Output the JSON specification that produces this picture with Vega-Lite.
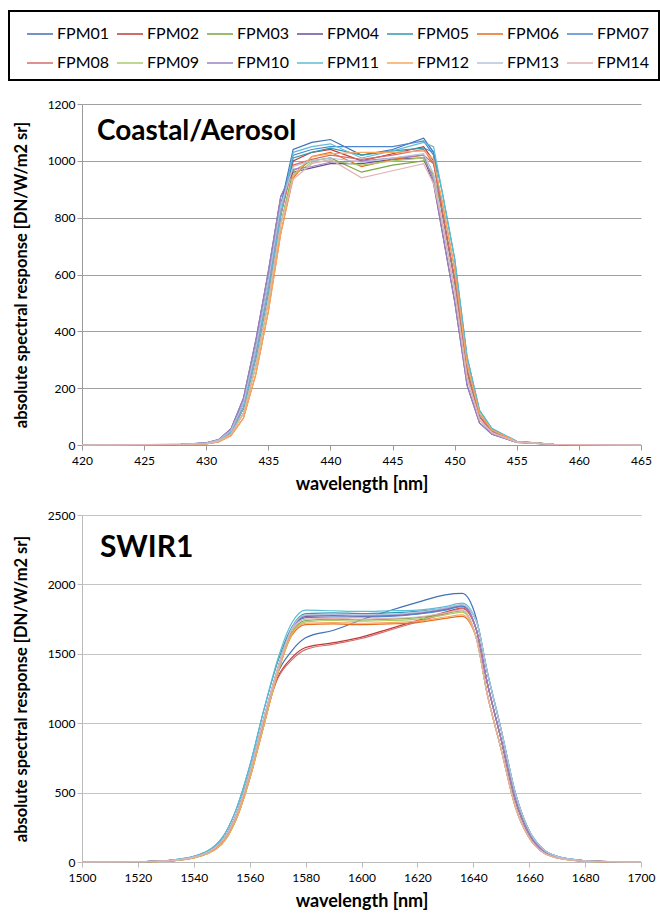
{
"$schema":"https://vega.github.io/schema/vega-lite/v6.json",
"padding":{"left":8,"top":10,"right":0,"bottom":5},
"config":{"font":"Lato","view":{"stroke":null},
"axis":{"labelFont":"Lato","labelFontSize":12,"labelColor":"#000","titleFont":"Lato","titleFontSize":16.5,"titleFontWeight":"bold","titleColor":"#000","tickSize":5},
"legend":{"strokeWidth":2}},
"datasets":{
"A":[
{"s":"FPM01","w":420,"v":0},{"s":"FPM01","w":428,"v":2},{"s":"FPM01","w":430,"v":7},{"s":"FPM01","w":431,"v":17},{"s":"FPM01","w":432,"v":51},{"s":"FPM01","w":433,"v":148},{"s":"FPM01","w":434,"v":340},{"s":"FPM01","w":435,"v":575},{"s":"FPM01","w":436,"v":842},{"s":"FPM01","w":437,"v":1040},{"s":"FPM01","w":438.5,"v":1065},{"s":"FPM01","w":440,"v":1075},{"s":"FPM01","w":442.5,"v":1020},{"s":"FPM01","w":445,"v":1040},{"s":"FPM01","w":447.5,"v":1080},{"s":"FPM01","w":448.3,"v":1030},{"s":"FPM01","w":449,"v":820},{"s":"FPM01","w":450,"v":580},{"s":"FPM01","w":451,"v":260},{"s":"FPM01","w":452,"v":100},{"s":"FPM01","w":453,"v":48},{"s":"FPM01","w":455,"v":11},{"s":"FPM01","w":458,"v":2},{"s":"FPM01","w":465,"v":0},
{"s":"FPM02","w":420,"v":0},{"s":"FPM02","w":428,"v":2},{"s":"FPM02","w":430,"v":6},{"s":"FPM02","w":431,"v":15},{"s":"FPM02","w":432,"v":45},{"s":"FPM02","w":433,"v":130},{"s":"FPM02","w":434,"v":310},{"s":"FPM02","w":435,"v":540},{"s":"FPM02","w":436,"v":810},{"s":"FPM02","w":437,"v":1000},{"s":"FPM02","w":438.5,"v":1030},{"s":"FPM02","w":440,"v":1040},{"s":"FPM02","w":442.5,"v":1000},{"s":"FPM02","w":445,"v":1025},{"s":"FPM02","w":447.5,"v":1050},{"s":"FPM02","w":448.3,"v":1000},{"s":"FPM02","w":449,"v":820},{"s":"FPM02","w":450,"v":580},{"s":"FPM02","w":451,"v":260},{"s":"FPM02","w":452,"v":100},{"s":"FPM02","w":453,"v":48},{"s":"FPM02","w":455,"v":11},{"s":"FPM02","w":458,"v":2},{"s":"FPM02","w":465,"v":0},
{"s":"FPM03","w":420,"v":0},{"s":"FPM03","w":428,"v":2},{"s":"FPM03","w":430,"v":5},{"s":"FPM03","w":431,"v":13},{"s":"FPM03","w":432,"v":39},{"s":"FPM03","w":433,"v":112},{"s":"FPM03","w":434,"v":280},{"s":"FPM03","w":435,"v":505},{"s":"FPM03","w":436,"v":778},{"s":"FPM03","w":437,"v":965},{"s":"FPM03","w":438.5,"v":1000},{"s":"FPM03","w":440,"v":1010},{"s":"FPM03","w":442.5,"v":960},{"s":"FPM03","w":445,"v":985},{"s":"FPM03","w":447.5,"v":1000},{"s":"FPM03","w":448.3,"v":950},{"s":"FPM03","w":449,"v":820},{"s":"FPM03","w":450,"v":580},{"s":"FPM03","w":451,"v":260},{"s":"FPM03","w":452,"v":100},{"s":"FPM03","w":453,"v":48},{"s":"FPM03","w":455,"v":11},{"s":"FPM03","w":458,"v":2},{"s":"FPM03","w":465,"v":0},
{"s":"FPM04","w":420,"v":0},{"s":"FPM04","w":428,"v":2},{"s":"FPM04","w":430,"v":8},{"s":"FPM04","w":431,"v":19},{"s":"FPM04","w":432,"v":57},{"s":"FPM04","w":433,"v":165},{"s":"FPM04","w":434,"v":370},{"s":"FPM04","w":435,"v":610},{"s":"FPM04","w":436,"v":875},{"s":"FPM04","w":437,"v":960},{"s":"FPM04","w":438.5,"v":975},{"s":"FPM04","w":440,"v":990},{"s":"FPM04","w":442.5,"v":990},{"s":"FPM04","w":445,"v":1005},{"s":"FPM04","w":447.5,"v":1010},{"s":"FPM04","w":448.3,"v":920},{"s":"FPM04","w":449,"v":750},{"s":"FPM04","w":450,"v":505},{"s":"FPM04","w":451,"v":210},{"s":"FPM04","w":452,"v":78},{"s":"FPM04","w":453,"v":38},{"s":"FPM04","w":455,"v":9},{"s":"FPM04","w":458,"v":2},{"s":"FPM04","w":465,"v":0},
{"s":"FPM05","w":420,"v":0},{"s":"FPM05","w":428,"v":2},{"s":"FPM05","w":430,"v":6},{"s":"FPM05","w":431,"v":15},{"s":"FPM05","w":432,"v":45},{"s":"FPM05","w":433,"v":130},{"s":"FPM05","w":434,"v":310},{"s":"FPM05","w":435,"v":540},{"s":"FPM05","w":436,"v":810},{"s":"FPM05","w":437,"v":1010},{"s":"FPM05","w":438.5,"v":1030},{"s":"FPM05","w":440,"v":1045},{"s":"FPM05","w":442.5,"v":1020},{"s":"FPM05","w":445,"v":1035},{"s":"FPM05","w":447.5,"v":1045},{"s":"FPM05","w":448.3,"v":1030},{"s":"FPM05","w":449,"v":890},{"s":"FPM05","w":450,"v":655},{"s":"FPM05","w":451,"v":310},{"s":"FPM05","w":452,"v":122},{"s":"FPM05","w":453,"v":58},{"s":"FPM05","w":455,"v":13},{"s":"FPM05","w":458,"v":2},{"s":"FPM05","w":465,"v":0},
{"s":"FPM06","w":420,"v":0},{"s":"FPM06","w":428,"v":2},{"s":"FPM06","w":430,"v":4},{"s":"FPM06","w":431,"v":11},{"s":"FPM06","w":432,"v":33},{"s":"FPM06","w":433,"v":95},{"s":"FPM06","w":434,"v":250},{"s":"FPM06","w":435,"v":470},{"s":"FPM06","w":436,"v":745},{"s":"FPM06","w":437,"v":940},{"s":"FPM06","w":438.5,"v":1015},{"s":"FPM06","w":440,"v":1030},{"s":"FPM06","w":442.5,"v":980},{"s":"FPM06","w":445,"v":1005},{"s":"FPM06","w":447.5,"v":1020},{"s":"FPM06","w":448.3,"v":990},{"s":"FPM06","w":449,"v":855},{"s":"FPM06","w":450,"v":618},{"s":"FPM06","w":451,"v":285},{"s":"FPM06","w":452,"v":111},{"s":"FPM06","w":453,"v":53},{"s":"FPM06","w":455,"v":12},{"s":"FPM06","w":458,"v":2},{"s":"FPM06","w":465,"v":0},
{"s":"FPM07","w":420,"v":0},{"s":"FPM07","w":428,"v":2},{"s":"FPM07","w":430,"v":7},{"s":"FPM07","w":431,"v":17},{"s":"FPM07","w":432,"v":51},{"s":"FPM07","w":433,"v":148},{"s":"FPM07","w":434,"v":340},{"s":"FPM07","w":435,"v":575},{"s":"FPM07","w":436,"v":842},{"s":"FPM07","w":437,"v":1020},{"s":"FPM07","w":438.5,"v":1040},{"s":"FPM07","w":440,"v":1050},{"s":"FPM07","w":442.5,"v":1050},{"s":"FPM07","w":445,"v":1050},{"s":"FPM07","w":447.5,"v":1070},{"s":"FPM07","w":448.3,"v":1020},{"s":"FPM07","w":449,"v":820},{"s":"FPM07","w":450,"v":580},{"s":"FPM07","w":451,"v":260},{"s":"FPM07","w":452,"v":100},{"s":"FPM07","w":453,"v":48},{"s":"FPM07","w":455,"v":11},{"s":"FPM07","w":458,"v":2},{"s":"FPM07","w":465,"v":0},
{"s":"FPM08","w":420,"v":0},{"s":"FPM08","w":428,"v":2},{"s":"FPM08","w":430,"v":6},{"s":"FPM08","w":431,"v":15},{"s":"FPM08","w":432,"v":45},{"s":"FPM08","w":433,"v":130},{"s":"FPM08","w":434,"v":310},{"s":"FPM08","w":435,"v":540},{"s":"FPM08","w":436,"v":810},{"s":"FPM08","w":437,"v":985},{"s":"FPM08","w":438.5,"v":1005},{"s":"FPM08","w":440,"v":1020},{"s":"FPM08","w":442.5,"v":1005},{"s":"FPM08","w":445,"v":1020},{"s":"FPM08","w":447.5,"v":1040},{"s":"FPM08","w":448.3,"v":990},{"s":"FPM08","w":449,"v":820},{"s":"FPM08","w":450,"v":580},{"s":"FPM08","w":451,"v":260},{"s":"FPM08","w":452,"v":100},{"s":"FPM08","w":453,"v":48},{"s":"FPM08","w":455,"v":11},{"s":"FPM08","w":458,"v":2},{"s":"FPM08","w":465,"v":0},
{"s":"FPM09","w":420,"v":0},{"s":"FPM09","w":428,"v":2},{"s":"FPM09","w":430,"v":5},{"s":"FPM09","w":431,"v":13},{"s":"FPM09","w":432,"v":39},{"s":"FPM09","w":433,"v":112},{"s":"FPM09","w":434,"v":280},{"s":"FPM09","w":435,"v":505},{"s":"FPM09","w":436,"v":778},{"s":"FPM09","w":437,"v":950},{"s":"FPM09","w":438.5,"v":995},{"s":"FPM09","w":440,"v":1000},{"s":"FPM09","w":442.5,"v":985},{"s":"FPM09","w":445,"v":1000},{"s":"FPM09","w":447.5,"v":1010},{"s":"FPM09","w":448.3,"v":940},{"s":"FPM09","w":449,"v":785},{"s":"FPM09","w":450,"v":543},{"s":"FPM09","w":451,"v":235},{"s":"FPM09","w":452,"v":89},{"s":"FPM09","w":453,"v":43},{"s":"FPM09","w":455,"v":10},{"s":"FPM09","w":458,"v":2},{"s":"FPM09","w":465,"v":0},
{"s":"FPM10","w":420,"v":0},{"s":"FPM10","w":428,"v":2},{"s":"FPM10","w":430,"v":8},{"s":"FPM10","w":431,"v":19},{"s":"FPM10","w":432,"v":57},{"s":"FPM10","w":433,"v":165},{"s":"FPM10","w":434,"v":370},{"s":"FPM10","w":435,"v":610},{"s":"FPM10","w":436,"v":875},{"s":"FPM10","w":437,"v":970},{"s":"FPM10","w":438.5,"v":980},{"s":"FPM10","w":440,"v":995},{"s":"FPM10","w":442.5,"v":1000},{"s":"FPM10","w":445,"v":1010},{"s":"FPM10","w":447.5,"v":1020},{"s":"FPM10","w":448.3,"v":930},{"s":"FPM10","w":449,"v":750},{"s":"FPM10","w":450,"v":505},{"s":"FPM10","w":451,"v":210},{"s":"FPM10","w":452,"v":78},{"s":"FPM10","w":453,"v":38},{"s":"FPM10","w":455,"v":9},{"s":"FPM10","w":458,"v":2},{"s":"FPM10","w":465,"v":0},
{"s":"FPM11","w":420,"v":0},{"s":"FPM11","w":428,"v":2},{"s":"FPM11","w":430,"v":6},{"s":"FPM11","w":431,"v":15},{"s":"FPM11","w":432,"v":45},{"s":"FPM11","w":433,"v":130},{"s":"FPM11","w":434,"v":310},{"s":"FPM11","w":435,"v":540},{"s":"FPM11","w":436,"v":810},{"s":"FPM11","w":437,"v":1030},{"s":"FPM11","w":438.5,"v":1050},{"s":"FPM11","w":440,"v":1060},{"s":"FPM11","w":442.5,"v":1010},{"s":"FPM11","w":445,"v":1035},{"s":"FPM11","w":447.5,"v":1065},{"s":"FPM11","w":448.3,"v":1050},{"s":"FPM11","w":449,"v":890},{"s":"FPM11","w":450,"v":655},{"s":"FPM11","w":451,"v":310},{"s":"FPM11","w":452,"v":122},{"s":"FPM11","w":453,"v":58},{"s":"FPM11","w":455,"v":13},{"s":"FPM11","w":458,"v":2},{"s":"FPM11","w":465,"v":0},
{"s":"FPM12","w":420,"v":0},{"s":"FPM12","w":428,"v":2},{"s":"FPM12","w":430,"v":4},{"s":"FPM12","w":431,"v":11},{"s":"FPM12","w":432,"v":33},{"s":"FPM12","w":433,"v":95},{"s":"FPM12","w":434,"v":250},{"s":"FPM12","w":435,"v":470},{"s":"FPM12","w":436,"v":745},{"s":"FPM12","w":437,"v":950},{"s":"FPM12","w":438.5,"v":1015},{"s":"FPM12","w":440,"v":1025},{"s":"FPM12","w":442.5,"v":1030},{"s":"FPM12","w":445,"v":1030},{"s":"FPM12","w":447.5,"v":1035},{"s":"FPM12","w":448.3,"v":1005},{"s":"FPM12","w":449,"v":855},{"s":"FPM12","w":450,"v":618},{"s":"FPM12","w":451,"v":285},{"s":"FPM12","w":452,"v":111},{"s":"FPM12","w":453,"v":53},{"s":"FPM12","w":455,"v":12},{"s":"FPM12","w":458,"v":2},{"s":"FPM12","w":465,"v":0},
{"s":"FPM13","w":420,"v":0},{"s":"FPM13","w":428,"v":2},{"s":"FPM13","w":430,"v":7},{"s":"FPM13","w":431,"v":17},{"s":"FPM13","w":432,"v":51},{"s":"FPM13","w":433,"v":148},{"s":"FPM13","w":434,"v":340},{"s":"FPM13","w":435,"v":575},{"s":"FPM13","w":436,"v":842},{"s":"FPM13","w":437,"v":980},{"s":"FPM13","w":438.5,"v":1000},{"s":"FPM13","w":440,"v":1010},{"s":"FPM13","w":442.5,"v":995},{"s":"FPM13","w":445,"v":1010},{"s":"FPM13","w":447.5,"v":1025},{"s":"FPM13","w":448.3,"v":955},{"s":"FPM13","w":449,"v":785},{"s":"FPM13","w":450,"v":543},{"s":"FPM13","w":451,"v":235},{"s":"FPM13","w":452,"v":89},{"s":"FPM13","w":453,"v":43},{"s":"FPM13","w":455,"v":10},{"s":"FPM13","w":458,"v":2},{"s":"FPM13","w":465,"v":0},
{"s":"FPM14","w":420,"v":0},{"s":"FPM14","w":428,"v":2},{"s":"FPM14","w":430,"v":5},{"s":"FPM14","w":431,"v":13},{"s":"FPM14","w":432,"v":39},{"s":"FPM14","w":433,"v":112},{"s":"FPM14","w":434,"v":280},{"s":"FPM14","w":435,"v":505},{"s":"FPM14","w":436,"v":778},{"s":"FPM14","w":437,"v":935},{"s":"FPM14","w":438.5,"v":990},{"s":"FPM14","w":440,"v":1005},{"s":"FPM14","w":442.5,"v":940},{"s":"FPM14","w":445,"v":965},{"s":"FPM14","w":447.5,"v":990},{"s":"FPM14","w":448.3,"v":920},{"s":"FPM14","w":449,"v":785},{"s":"FPM14","w":450,"v":543},{"s":"FPM14","w":451,"v":235},{"s":"FPM14","w":452,"v":89},{"s":"FPM14","w":453,"v":43},{"s":"FPM14","w":455,"v":10},{"s":"FPM14","w":458,"v":2},{"s":"FPM14","w":465,"v":0}
],
"B":[
{"s":"FPM01","w":1500,"v":0},{"s":"FPM01","w":1520,"v":2},{"s":"FPM01","w":1530,"v":8},{"s":"FPM01","w":1540,"v":35},{"s":"FPM01","w":1550,"v":150},{"s":"FPM01","w":1555,"v":330},{"s":"FPM01","w":1560,"v":640},{"s":"FPM01","w":1565,"v":1020},{"s":"FPM01","w":1570,"v":1360},{"s":"FPM01","w":1575,"v":1520},{"s":"FPM01","w":1580,"v":1615},{"s":"FPM01","w":1590,"v":1670},{"s":"FPM01","w":1600,"v":1745},{"s":"FPM01","w":1610,"v":1810},{"s":"FPM01","w":1620,"v":1870},{"s":"FPM01","w":1630,"v":1925},{"s":"FPM01","w":1636,"v":1935},{"s":"FPM01","w":1641,"v":1760},{"s":"FPM01","w":1645,"v":1370},{"s":"FPM01","w":1650,"v":950},{"s":"FPM01","w":1655,"v":500},{"s":"FPM01","w":1660,"v":225},{"s":"FPM01","w":1665,"v":92},{"s":"FPM01","w":1670,"v":40},{"s":"FPM01","w":1680,"v":9},{"s":"FPM01","w":1690,"v":2},{"s":"FPM01","w":1700,"v":0},
{"s":"FPM02","w":1500,"v":0},{"s":"FPM02","w":1520,"v":2},{"s":"FPM02","w":1530,"v":8},{"s":"FPM02","w":1540,"v":35},{"s":"FPM02","w":1550,"v":150},{"s":"FPM02","w":1555,"v":330},{"s":"FPM02","w":1560,"v":640},{"s":"FPM02","w":1565,"v":1020},{"s":"FPM02","w":1570,"v":1330},{"s":"FPM02","w":1575,"v":1470},{"s":"FPM02","w":1580,"v":1545},{"s":"FPM02","w":1590,"v":1580},{"s":"FPM02","w":1600,"v":1620},{"s":"FPM02","w":1610,"v":1680},{"s":"FPM02","w":1620,"v":1740},{"s":"FPM02","w":1630,"v":1800},{"s":"FPM02","w":1636,"v":1830},{"s":"FPM02","w":1641,"v":1680},{"s":"FPM02","w":1645,"v":1290},{"s":"FPM02","w":1650,"v":880},{"s":"FPM02","w":1655,"v":450},{"s":"FPM02","w":1660,"v":200},{"s":"FPM02","w":1665,"v":80},{"s":"FPM02","w":1670,"v":35},{"s":"FPM02","w":1680,"v":8},{"s":"FPM02","w":1690,"v":2},{"s":"FPM02","w":1700,"v":0},
{"s":"FPM03","w":1500,"v":0},{"s":"FPM03","w":1520,"v":2},{"s":"FPM03","w":1530,"v":7},{"s":"FPM03","w":1540,"v":30},{"s":"FPM03","w":1550,"v":130},{"s":"FPM03","w":1555,"v":300},{"s":"FPM03","w":1560,"v":600},{"s":"FPM03","w":1565,"v":980},{"s":"FPM03","w":1570,"v":1360},{"s":"FPM03","w":1575,"v":1650},{"s":"FPM03","w":1580,"v":1740},{"s":"FPM03","w":1590,"v":1750},{"s":"FPM03","w":1600,"v":1745},{"s":"FPM03","w":1610,"v":1750},{"s":"FPM03","w":1620,"v":1760},{"s":"FPM03","w":1630,"v":1790},{"s":"FPM03","w":1636,"v":1810},{"s":"FPM03","w":1641,"v":1620},{"s":"FPM03","w":1645,"v":1210},{"s":"FPM03","w":1650,"v":810},{"s":"FPM03","w":1655,"v":400},{"s":"FPM03","w":1660,"v":175},{"s":"FPM03","w":1665,"v":68},{"s":"FPM03","w":1670,"v":30},{"s":"FPM03","w":1680,"v":7},{"s":"FPM03","w":1690,"v":2},{"s":"FPM03","w":1700,"v":0},
{"s":"FPM04","w":1500,"v":0},{"s":"FPM04","w":1520,"v":2},{"s":"FPM04","w":1530,"v":8},{"s":"FPM04","w":1540,"v":35},{"s":"FPM04","w":1550,"v":150},{"s":"FPM04","w":1555,"v":330},{"s":"FPM04","w":1560,"v":640},{"s":"FPM04","w":1565,"v":1030},{"s":"FPM04","w":1570,"v":1390},{"s":"FPM04","w":1575,"v":1680},{"s":"FPM04","w":1580,"v":1770},{"s":"FPM04","w":1590,"v":1775},{"s":"FPM04","w":1600,"v":1770},{"s":"FPM04","w":1610,"v":1775},{"s":"FPM04","w":1620,"v":1790},{"s":"FPM04","w":1630,"v":1820},{"s":"FPM04","w":1636,"v":1845},{"s":"FPM04","w":1641,"v":1680},{"s":"FPM04","w":1645,"v":1290},{"s":"FPM04","w":1650,"v":880},{"s":"FPM04","w":1655,"v":450},{"s":"FPM04","w":1660,"v":200},{"s":"FPM04","w":1665,"v":80},{"s":"FPM04","w":1670,"v":35},{"s":"FPM04","w":1680,"v":8},{"s":"FPM04","w":1690,"v":2},{"s":"FPM04","w":1700,"v":0},
{"s":"FPM05","w":1500,"v":0},{"s":"FPM05","w":1520,"v":2},{"s":"FPM05","w":1530,"v":10},{"s":"FPM05","w":1540,"v":40},{"s":"FPM05","w":1550,"v":170},{"s":"FPM05","w":1555,"v":370},{"s":"FPM05","w":1560,"v":690},{"s":"FPM05","w":1565,"v":1090},{"s":"FPM05","w":1570,"v":1440},{"s":"FPM05","w":1575,"v":1690},{"s":"FPM05","w":1580,"v":1790},{"s":"FPM05","w":1590,"v":1795},{"s":"FPM05","w":1600,"v":1790},{"s":"FPM05","w":1610,"v":1795},{"s":"FPM05","w":1620,"v":1805},{"s":"FPM05","w":1630,"v":1830},{"s":"FPM05","w":1636,"v":1850},{"s":"FPM05","w":1641,"v":1740},{"s":"FPM05","w":1645,"v":1370},{"s":"FPM05","w":1650,"v":950},{"s":"FPM05","w":1655,"v":500},{"s":"FPM05","w":1660,"v":225},{"s":"FPM05","w":1665,"v":92},{"s":"FPM05","w":1670,"v":40},{"s":"FPM05","w":1680,"v":9},{"s":"FPM05","w":1690,"v":2},{"s":"FPM05","w":1700,"v":0},
{"s":"FPM06","w":1500,"v":0},{"s":"FPM06","w":1520,"v":2},{"s":"FPM06","w":1530,"v":7},{"s":"FPM06","w":1540,"v":30},{"s":"FPM06","w":1550,"v":130},{"s":"FPM06","w":1555,"v":300},{"s":"FPM06","w":1560,"v":600},{"s":"FPM06","w":1565,"v":980},{"s":"FPM06","w":1570,"v":1360},{"s":"FPM06","w":1575,"v":1630},{"s":"FPM06","w":1580,"v":1710},{"s":"FPM06","w":1590,"v":1715},{"s":"FPM06","w":1600,"v":1710},{"s":"FPM06","w":1610,"v":1715},{"s":"FPM06","w":1620,"v":1725},{"s":"FPM06","w":1630,"v":1755},{"s":"FPM06","w":1636,"v":1770},{"s":"FPM06","w":1641,"v":1620},{"s":"FPM06","w":1645,"v":1210},{"s":"FPM06","w":1650,"v":810},{"s":"FPM06","w":1655,"v":400},{"s":"FPM06","w":1660,"v":175},{"s":"FPM06","w":1665,"v":68},{"s":"FPM06","w":1670,"v":30},{"s":"FPM06","w":1680,"v":7},{"s":"FPM06","w":1690,"v":2},{"s":"FPM06","w":1700,"v":0},
{"s":"FPM07","w":1500,"v":0},{"s":"FPM07","w":1520,"v":2},{"s":"FPM07","w":1530,"v":8},{"s":"FPM07","w":1540,"v":35},{"s":"FPM07","w":1550,"v":150},{"s":"FPM07","w":1555,"v":330},{"s":"FPM07","w":1560,"v":640},{"s":"FPM07","w":1565,"v":1030},{"s":"FPM07","w":1570,"v":1390},{"s":"FPM07","w":1575,"v":1670},{"s":"FPM07","w":1580,"v":1760},{"s":"FPM07","w":1590,"v":1765},{"s":"FPM07","w":1600,"v":1765},{"s":"FPM07","w":1610,"v":1770},{"s":"FPM07","w":1620,"v":1785},{"s":"FPM07","w":1630,"v":1815},{"s":"FPM07","w":1636,"v":1840},{"s":"FPM07","w":1641,"v":1680},{"s":"FPM07","w":1645,"v":1290},{"s":"FPM07","w":1650,"v":880},{"s":"FPM07","w":1655,"v":450},{"s":"FPM07","w":1660,"v":200},{"s":"FPM07","w":1665,"v":80},{"s":"FPM07","w":1670,"v":35},{"s":"FPM07","w":1680,"v":8},{"s":"FPM07","w":1690,"v":2},{"s":"FPM07","w":1700,"v":0},
{"s":"FPM08","w":1500,"v":0},{"s":"FPM08","w":1520,"v":2},{"s":"FPM08","w":1530,"v":8},{"s":"FPM08","w":1540,"v":35},{"s":"FPM08","w":1550,"v":150},{"s":"FPM08","w":1555,"v":330},{"s":"FPM08","w":1560,"v":635},{"s":"FPM08","w":1565,"v":1010},{"s":"FPM08","w":1570,"v":1320},{"s":"FPM08","w":1575,"v":1455},{"s":"FPM08","w":1580,"v":1530},{"s":"FPM08","w":1590,"v":1570},{"s":"FPM08","w":1600,"v":1610},{"s":"FPM08","w":1610,"v":1670},{"s":"FPM08","w":1620,"v":1730},{"s":"FPM08","w":1630,"v":1790},{"s":"FPM08","w":1636,"v":1825},{"s":"FPM08","w":1641,"v":1680},{"s":"FPM08","w":1645,"v":1290},{"s":"FPM08","w":1650,"v":880},{"s":"FPM08","w":1655,"v":450},{"s":"FPM08","w":1660,"v":200},{"s":"FPM08","w":1665,"v":80},{"s":"FPM08","w":1670,"v":35},{"s":"FPM08","w":1680,"v":8},{"s":"FPM08","w":1690,"v":2},{"s":"FPM08","w":1700,"v":0},
{"s":"FPM09","w":1500,"v":0},{"s":"FPM09","w":1520,"v":2},{"s":"FPM09","w":1530,"v":7},{"s":"FPM09","w":1540,"v":30},{"s":"FPM09","w":1550,"v":130},{"s":"FPM09","w":1555,"v":300},{"s":"FPM09","w":1560,"v":600},{"s":"FPM09","w":1565,"v":980},{"s":"FPM09","w":1570,"v":1360},{"s":"FPM09","w":1575,"v":1640},{"s":"FPM09","w":1580,"v":1730},{"s":"FPM09","w":1590,"v":1740},{"s":"FPM09","w":1600,"v":1735},{"s":"FPM09","w":1610,"v":1740},{"s":"FPM09","w":1620,"v":1750},{"s":"FPM09","w":1630,"v":1780},{"s":"FPM09","w":1636,"v":1800},{"s":"FPM09","w":1641,"v":1620},{"s":"FPM09","w":1645,"v":1210},{"s":"FPM09","w":1650,"v":810},{"s":"FPM09","w":1655,"v":400},{"s":"FPM09","w":1660,"v":175},{"s":"FPM09","w":1665,"v":68},{"s":"FPM09","w":1670,"v":30},{"s":"FPM09","w":1680,"v":7},{"s":"FPM09","w":1690,"v":2},{"s":"FPM09","w":1700,"v":0},
{"s":"FPM10","w":1500,"v":0},{"s":"FPM10","w":1520,"v":2},{"s":"FPM10","w":1530,"v":8},{"s":"FPM10","w":1540,"v":35},{"s":"FPM10","w":1550,"v":150},{"s":"FPM10","w":1555,"v":330},{"s":"FPM10","w":1560,"v":640},{"s":"FPM10","w":1565,"v":1030},{"s":"FPM10","w":1570,"v":1390},{"s":"FPM10","w":1575,"v":1680},{"s":"FPM10","w":1580,"v":1775},{"s":"FPM10","w":1590,"v":1780},{"s":"FPM10","w":1600,"v":1775},{"s":"FPM10","w":1610,"v":1780},{"s":"FPM10","w":1620,"v":1795},{"s":"FPM10","w":1630,"v":1825},{"s":"FPM10","w":1636,"v":1850},{"s":"FPM10","w":1641,"v":1680},{"s":"FPM10","w":1645,"v":1290},{"s":"FPM10","w":1650,"v":880},{"s":"FPM10","w":1655,"v":450},{"s":"FPM10","w":1660,"v":200},{"s":"FPM10","w":1665,"v":80},{"s":"FPM10","w":1670,"v":35},{"s":"FPM10","w":1680,"v":8},{"s":"FPM10","w":1690,"v":2},{"s":"FPM10","w":1700,"v":0},
{"s":"FPM11","w":1500,"v":0},{"s":"FPM11","w":1520,"v":2},{"s":"FPM11","w":1530,"v":10},{"s":"FPM11","w":1540,"v":40},{"s":"FPM11","w":1550,"v":170},{"s":"FPM11","w":1555,"v":370},{"s":"FPM11","w":1560,"v":690},{"s":"FPM11","w":1565,"v":1090},{"s":"FPM11","w":1570,"v":1460},{"s":"FPM11","w":1575,"v":1720},{"s":"FPM11","w":1580,"v":1815},{"s":"FPM11","w":1590,"v":1810},{"s":"FPM11","w":1600,"v":1805},{"s":"FPM11","w":1610,"v":1810},{"s":"FPM11","w":1620,"v":1815},{"s":"FPM11","w":1630,"v":1840},{"s":"FPM11","w":1636,"v":1865},{"s":"FPM11","w":1641,"v":1740},{"s":"FPM11","w":1645,"v":1370},{"s":"FPM11","w":1650,"v":950},{"s":"FPM11","w":1655,"v":500},{"s":"FPM11","w":1660,"v":225},{"s":"FPM11","w":1665,"v":92},{"s":"FPM11","w":1670,"v":40},{"s":"FPM11","w":1680,"v":9},{"s":"FPM11","w":1690,"v":2},{"s":"FPM11","w":1700,"v":0},
{"s":"FPM12","w":1500,"v":0},{"s":"FPM12","w":1520,"v":2},{"s":"FPM12","w":1530,"v":7},{"s":"FPM12","w":1540,"v":30},{"s":"FPM12","w":1550,"v":130},{"s":"FPM12","w":1555,"v":300},{"s":"FPM12","w":1560,"v":600},{"s":"FPM12","w":1565,"v":980},{"s":"FPM12","w":1570,"v":1360},{"s":"FPM12","w":1575,"v":1640},{"s":"FPM12","w":1580,"v":1720},{"s":"FPM12","w":1590,"v":1725},{"s":"FPM12","w":1600,"v":1720},{"s":"FPM12","w":1610,"v":1725},{"s":"FPM12","w":1620,"v":1735},{"s":"FPM12","w":1630,"v":1765},{"s":"FPM12","w":1636,"v":1780},{"s":"FPM12","w":1641,"v":1620},{"s":"FPM12","w":1645,"v":1210},{"s":"FPM12","w":1650,"v":810},{"s":"FPM12","w":1655,"v":400},{"s":"FPM12","w":1660,"v":175},{"s":"FPM12","w":1665,"v":68},{"s":"FPM12","w":1670,"v":30},{"s":"FPM12","w":1680,"v":7},{"s":"FPM12","w":1690,"v":2},{"s":"FPM12","w":1700,"v":0},
{"s":"FPM13","w":1500,"v":0},{"s":"FPM13","w":1520,"v":2},{"s":"FPM13","w":1530,"v":8},{"s":"FPM13","w":1540,"v":35},{"s":"FPM13","w":1550,"v":150},{"s":"FPM13","w":1555,"v":330},{"s":"FPM13","w":1560,"v":640},{"s":"FPM13","w":1565,"v":1030},{"s":"FPM13","w":1570,"v":1390},{"s":"FPM13","w":1575,"v":1680},{"s":"FPM13","w":1580,"v":1780},{"s":"FPM13","w":1590,"v":1785},{"s":"FPM13","w":1600,"v":1780},{"s":"FPM13","w":1610,"v":1785},{"s":"FPM13","w":1620,"v":1800},{"s":"FPM13","w":1630,"v":1830},{"s":"FPM13","w":1636,"v":1855},{"s":"FPM13","w":1641,"v":1740},{"s":"FPM13","w":1645,"v":1370},{"s":"FPM13","w":1650,"v":950},{"s":"FPM13","w":1655,"v":500},{"s":"FPM13","w":1660,"v":225},{"s":"FPM13","w":1665,"v":92},{"s":"FPM13","w":1670,"v":40},{"s":"FPM13","w":1680,"v":9},{"s":"FPM13","w":1690,"v":2},{"s":"FPM13","w":1700,"v":0},
{"s":"FPM14","w":1500,"v":0},{"s":"FPM14","w":1520,"v":2},{"s":"FPM14","w":1530,"v":8},{"s":"FPM14","w":1540,"v":35},{"s":"FPM14","w":1550,"v":150},{"s":"FPM14","w":1555,"v":330},{"s":"FPM14","w":1560,"v":640},{"s":"FPM14","w":1565,"v":1030},{"s":"FPM14","w":1570,"v":1390},{"s":"FPM14","w":1575,"v":1670},{"s":"FPM14","w":1580,"v":1750},{"s":"FPM14","w":1590,"v":1755},{"s":"FPM14","w":1600,"v":1750},{"s":"FPM14","w":1610,"v":1755},{"s":"FPM14","w":1620,"v":1765},{"s":"FPM14","w":1630,"v":1795},{"s":"FPM14","w":1636,"v":1815},{"s":"FPM14","w":1641,"v":1620},{"s":"FPM14","w":1645,"v":1210},{"s":"FPM14","w":1650,"v":810},{"s":"FPM14","w":1655,"v":400},{"s":"FPM14","w":1660,"v":175},{"s":"FPM14","w":1665,"v":68},{"s":"FPM14","w":1670,"v":30},{"s":"FPM14","w":1680,"v":7},{"s":"FPM14","w":1690,"v":2},{"s":"FPM14","w":1700,"v":0}
]},
"spacing":16,
"vconcat":[
{"width":559,"height":341,
"layer":[
{"data":{"name":"A"},"mark":{"type":"line","strokeWidth":1.2,"interpolate":"linear"},
"encoding":{
"x":{"field":"w","type":"quantitative","scale":{"domain":[420,465],"nice":false,"zero":false},
"axis":{"values":[420,425,430,435,440,445,450,455,460,465],"format":"d","title":"wavelength [nm]","titleFontSize":18,"labelPadding":5,"titlePadding":9,"domainColor":"#999","tickColor":"#999","grid":false,"labelFlush":false}},
"y":{"field":"v","type":"quantitative","scale":{"domain":[0,1200],"nice":false},
"axis":{"values":[0,200,400,600,800,1000,1200],"format":"d","title":"absolute spectral response [DN/W/m2 sr]","grid":true,"gridColor":"#a0a0a0","domainColor":"#999","tickColor":"#999","titlePadding":18,"labelFlush":false}},
"color":{"field":"s","type":"nominal",
"scale":{"domain":["FPM01","FPM02","FPM03","FPM04","FPM05","FPM06","FPM07","FPM08","FPM09","FPM10","FPM11","FPM12","FPM13","FPM14"],
"range":["#4070B8","#BE3B36","#7DA53E","#6C4E96","#2E9AB2","#E56D1F","#4C86D0","#D56B6A","#A8CB6C","#9B80C2","#5DBCD5","#F8A75C","#B5C4DC","#E2B3B3"]},
"legend":{"title":" ","titleOrient":"left","titlePadding":8,"titleFontSize":16,"orient":"none","legendX":-73,"legendY":-93,"direction":"horizontal","columns":7,"symbolType":"stroke","symbolSize":676,"symbolStrokeWidth":1.5,"labelFontSize":16,"labelFont":"Lato","labelColor":"#000","labelOffset":3,"columnPadding":4,"rowPadding":7,"strokeColor":"#000","padding":9,"labelLimit":100}}}},
{"data":{"values":[{"t":"Coastal/Aerosol","w":421.2,"v":1101}]},
"mark":{"type":"text","align":"left","baseline":"middle","fontSize":28,"fontWeight":"bold","font":"Lato","color":"#000"},
"encoding":{"x":{"field":"w","type":"quantitative"},"y":{"field":"v","type":"quantitative"},"text":{"field":"t"}}}
]},
{"width":559,"height":347,
"layer":[
{"data":{"name":"B"},"mark":{"type":"line","strokeWidth":1.2,"interpolate":"monotone"},
"encoding":{
"x":{"field":"w","type":"quantitative","scale":{"domain":[1500,1700],"nice":false,"zero":false},
"axis":{"values":[1500,1520,1540,1560,1580,1600,1620,1640,1660,1680,1700],"format":"d","title":"wavelength [nm]","titleFontSize":18,"labelPadding":5,"titlePadding":9,"domainColor":"#bbb","tickColor":"#bbb","grid":false,"labelFlush":false}},
"y":{"field":"v","type":"quantitative","scale":{"domain":[0,2500],"nice":false},
"axis":{"values":[0,500,1000,1500,2000,2500],"format":"d","title":"absolute spectral response [DN/W/m2 sr]","grid":true,"gridColor":"#c4c4c4","domainColor":"#bbb","tickColor":"#bbb","titlePadding":18,"labelFlush":false}},
"color":{"field":"s","type":"nominal",
"scale":{"domain":["FPM01","FPM02","FPM03","FPM04","FPM05","FPM06","FPM07","FPM08","FPM09","FPM10","FPM11","FPM12","FPM13","FPM14"],
"range":["#4070B8","#BE3B36","#7DA53E","#6C4E96","#2E9AB2","#E56D1F","#4C86D0","#D56B6A","#A8CB6C","#9B80C2","#5DBCD5","#F8A75C","#B5C4DC","#E2B3B3"]},
"legend":{"title":" ","titleOrient":"left","titlePadding":8,"titleFontSize":16,"orient":"none","legendX":-73,"legendY":-93,"direction":"horizontal","columns":7,"symbolType":"stroke","symbolSize":676,"symbolStrokeWidth":1.5,"labelFontSize":16,"labelFont":"Lato","labelColor":"#000","labelOffset":3,"columnPadding":4,"rowPadding":7,"strokeColor":"#000","padding":9,"labelLimit":100}}}},
{"data":{"values":[{"t":"SWIR1","w":1506.4,"v":2262}]},
"mark":{"type":"text","align":"left","baseline":"middle","fontSize":30,"fontWeight":"bold","font":"Lato","color":"#000"},
"encoding":{"x":{"field":"w","type":"quantitative"},"y":{"field":"v","type":"quantitative"},"text":{"field":"t"}}}
]}
],
"resolve":{"scale":{"color":"shared"}}
}
